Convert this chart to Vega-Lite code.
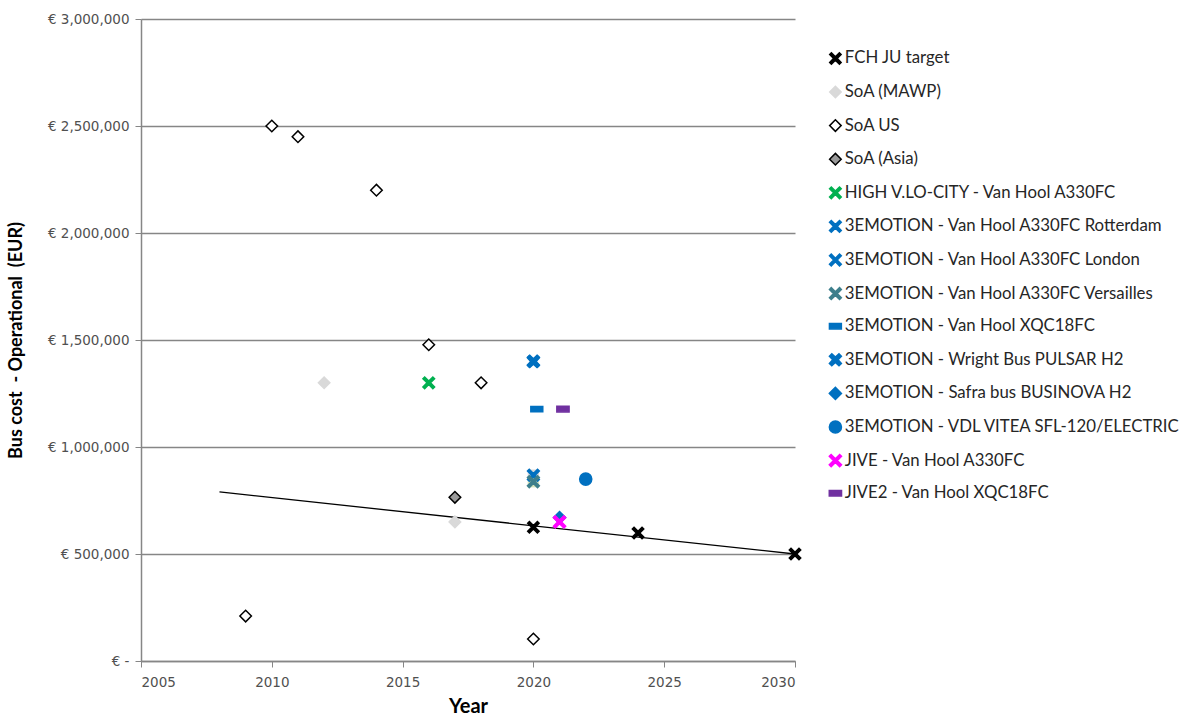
{
  "$schema": "https://vega.github.io/schema/vega-lite/v6.json",
  "width": 654,
  "height": 642,
  "autosize": "none",
  "padding": {"left": 141, "top": 19, "right": 384, "bottom": 56},
  "background": "white",
  "config": {
    "view": {"stroke": null},
    "font": "Lato",
    "axis": {"labelFont": "DejaVu Sans", "titleFont": "Lato", "labelColor": "#505050", "labelFontSize": 13.5, "titleFontSize": 20, "titleFontWeight": "bold", "titleColor": "#000000", "domainColor": "#868686", "tickColor": "#868686", "gridColor": "#868686", "domainWidth": 1.5, "gridWidth": 1.3}
  },
  "datasets": {
    "points": [
      {"series": "FCH JU target", "year": 2020, "cost": 625000},
      {"series": "FCH JU target", "year": 2024, "cost": 598000},
      {"series": "FCH JU target", "year": 2030, "cost": 500000},
      {"series": "SoA (MAWP)", "year": 2012, "cost": 1300000},
      {"series": "SoA (MAWP)", "year": 2017, "cost": 650000},
      {"series": "SoA US", "year": 2009, "cost": 210000},
      {"series": "SoA US", "year": 2010, "cost": 2500000},
      {"series": "SoA US", "year": 2011, "cost": 2450000},
      {"series": "SoA US", "year": 2014, "cost": 2200000},
      {"series": "SoA US", "year": 2016, "cost": 1478000},
      {"series": "SoA US", "year": 2018, "cost": 1300000},
      {"series": "SoA US", "year": 2020, "cost": 103000},
      {"series": "SoA (Asia)", "year": 2017, "cost": 765000},
      {"series": "HIGH V.LO-CITY - Van Hool A330FC", "year": 2016, "cost": 1300000},
      {"series": "3EMOTION - Van Hool A330FC Rotterdam", "year": 2020, "cost": 1400000},
      {"series": "3EMOTION - Van Hool A330FC London", "year": 2020, "cost": 868000},
      {"series": "3EMOTION - Van Hool A330FC Versailles", "year": 2020, "cost": 838000},
      {"series": "3EMOTION - Van Hool XQC18FC", "year": 2020.13, "cost": 1177000},
      {"series": "3EMOTION - Wright Bus PULSAR H2", "year": 2020, "cost": 1400000},
      {"series": "3EMOTION - Safra bus BUSINOVA H2", "year": 2021, "cost": 670000},
      {"series": "3EMOTION - VDL VITEA SFL-120/ELECTRIC", "year": 2022, "cost": 850000},
      {"series": "JIVE - Van Hool A330FC", "year": 2021, "cost": 650000},
      {"series": "JIVE2 - Van Hool XQC18FC", "year": 2021.13, "cost": 1177000}
    ],
    "trend": [
      {"year": 2008, "cost": 790000},
      {"year": 2030, "cost": 500000}
    ]
  },
  "layer": [
    {
      "data": {"name": "trend"},
      "mark": {"type": "line", "color": "#000000", "strokeWidth": 1.3},
      "encoding": {
        "x": {"field": "year", "type": "quantitative", "scale": {"domain": [2005, 2030], "nice": false, "zero": false},
          "axis": {"title": "Year", "values": [2005, 2010, 2015, 2020, 2025, 2030], "format": "d", "grid": false, "tickSize": 6, "labelPadding": 8, "titlePadding": 8}},
        "y": {"field": "cost", "type": "quantitative", "scale": {"domain": [0, 3000000], "nice": false},
          "axis": {"title": "Bus cost \u00a0- Operational \u00a0(EUR)", "titleFontSize": 18, "values": [0, 500000, 1000000, 1500000, 2000000, 2500000, 3000000], "labelExpr": "datum.value == 0 ? '€ -' : '€ ' + format(datum.value, ',')", "grid": true, "tickSize": 6, "labelPadding": 6, "titlePadding": 22}}
      }
    },
    {
      "data": {"name": "points"},
      "transform": [{"filter": "datum.series == '3EMOTION - Van Hool A330FC London'"}],
      "mark": {"type": "square", "color": "#D9D9D9", "size": 130, "opacity": 1},
      "encoding": {"x": {"field": "year", "type": "quantitative"}, "y": {"field": "cost", "type": "quantitative"}}
    },
    {
      "data": {"name": "points"},
      "transform": [{"filter": "datum.series == '3EMOTION - Van Hool A330FC Versailles'"}],
      "mark": {"type": "square", "color": "#D7E4BD", "size": 130, "opacity": 1},
      "encoding": {"x": {"field": "year", "type": "quantitative"}, "y": {"field": "cost", "type": "quantitative"}}
    },
    {
      "data": {"name": "points"},
      "mark": {"type": "point", "opacity": 1, "strokeWidth": 1.5},
      "encoding": {
        "x": {"field": "year", "type": "quantitative"},
        "y": {"field": "cost", "type": "quantitative"},
        "shape": {"field": "series", "type": "nominal", "scale": {
          "domain": ["FCH JU target", "SoA (MAWP)", "SoA US", "SoA (Asia)", "HIGH V.LO-CITY - Van Hool A330FC", "3EMOTION - Van Hool A330FC Rotterdam", "3EMOTION - Van Hool A330FC London", "3EMOTION - Van Hool A330FC Versailles", "3EMOTION - Van Hool XQC18FC", "3EMOTION - Wright Bus PULSAR H2", "3EMOTION - Safra bus BUSINOVA H2", "3EMOTION - VDL VITEA SFL-120/ELECTRIC", "JIVE - Van Hool A330FC", "JIVE2 - Van Hool XQC18FC"],
          "range": [
            "M-1,-0.7L-0.7,-1L0,-0.3L0.7,-1L1,-0.7L0.3,0L1,0.7L0.7,1L0,0.3L-0.7,1L-1,0.7L-0.3,0Z",
            "diamond",
            "diamond",
            "diamond",
            "M-1,-0.7L-0.7,-1L0,-0.3L0.7,-1L1,-0.7L0.3,0L1,0.7L0.7,1L0,0.3L-0.7,1L-1,0.7L-0.3,0Z",
            "M-1,-0.7L-0.7,-1L0,-0.3L0.7,-1L1,-0.7L0.3,0L1,0.7L0.7,1L0,0.3L-0.7,1L-1,0.7L-0.3,0Z",
            "M-1,-0.7L-0.7,-1L0,-0.3L0.7,-1L1,-0.7L0.3,0L1,0.7L0.7,1L0,0.3L-0.7,1L-1,0.7L-0.3,0Z",
            "M-1,-0.7L-0.7,-1L0,-0.3L0.7,-1L1,-0.7L0.3,0L1,0.7L0.7,1L0,0.3L-0.7,1L-1,0.7L-0.3,0Z",
            "M-1,-0.45L1,-0.45L1,0.45L-1,0.45Z",
            "M-1,-0.6L-0.6,-1L0,-0.45L0.6,-1L1,-0.6L0.45,0L1,0.6L0.6,1L0,0.45L-0.6,1L-1,0.6L-0.45,0Z",
            "diamond",
            "circle",
            "M-1,-0.7L-0.7,-1L0,-0.3L0.7,-1L1,-0.7L0.3,0L1,0.7L0.7,1L0,0.3L-0.7,1L-1,0.7L-0.3,0Z",
            "M-1,-0.45L1,-0.45L1,0.45L-1,0.45Z"
          ]}, "legend": {
          "orient": "none", "legendX": 686, "legendY": 31, "title": null,
          "labelFont": "Lato", "labelFontSize": 16.8, "labelColor": "#262626", "rowPadding": 14.6, "labelLimit": 400, "symbolOpacity": 1, "symbolStrokeWidth": 1.5, "labelOffset": 1
        }},
        "fill": {"field": "series", "type": "nominal", "scale": {
          "domain": ["FCH JU target", "SoA (MAWP)", "SoA US", "SoA (Asia)", "HIGH V.LO-CITY - Van Hool A330FC", "3EMOTION - Van Hool A330FC Rotterdam", "3EMOTION - Van Hool A330FC London", "3EMOTION - Van Hool A330FC Versailles", "3EMOTION - Van Hool XQC18FC", "3EMOTION - Wright Bus PULSAR H2", "3EMOTION - Safra bus BUSINOVA H2", "3EMOTION - VDL VITEA SFL-120/ELECTRIC", "JIVE - Van Hool A330FC", "JIVE2 - Van Hool XQC18FC"],
          "range": ["#000000", "#D9D9D9", "#FFFFFF", "#9A9A9A", "#00B050", "#0070C0", "#0070C0", "#3E7F8C", "#0070C0", "#0070C0", "#0070C0", "#0070C0", "#FF00FF", "#7030A0"]}},
        "stroke": {"field": "series", "type": "nominal", "scale": {
          "domain": ["FCH JU target", "SoA (MAWP)", "SoA US", "SoA (Asia)", "HIGH V.LO-CITY - Van Hool A330FC", "3EMOTION - Van Hool A330FC Rotterdam", "3EMOTION - Van Hool A330FC London", "3EMOTION - Van Hool A330FC Versailles", "3EMOTION - Van Hool XQC18FC", "3EMOTION - Wright Bus PULSAR H2", "3EMOTION - Safra bus BUSINOVA H2", "3EMOTION - VDL VITEA SFL-120/ELECTRIC", "JIVE - Van Hool A330FC", "JIVE2 - Van Hool XQC18FC"],
          "range": ["#000000", "#D9D9D9", "#000000", "#000000", "#00B050", "#0070C0", "#0070C0", "#3E7F8C", "#0070C0", "#0070C0", "#0070C0", "#0070C0", "#FF00FF", "#7030A0"]}},
        "size": {"field": "series", "type": "nominal", "scale": {
          "domain": ["FCH JU target", "SoA (MAWP)", "SoA US", "SoA (Asia)", "HIGH V.LO-CITY - Van Hool A330FC", "3EMOTION - Van Hool A330FC Rotterdam", "3EMOTION - Van Hool A330FC London", "3EMOTION - Van Hool A330FC Versailles", "3EMOTION - Van Hool XQC18FC", "3EMOTION - Wright Bus PULSAR H2", "3EMOTION - Safra bus BUSINOVA H2", "3EMOTION - VDL VITEA SFL-120/ELECTRIC", "JIVE - Van Hool A330FC", "JIVE2 - Van Hool XQC18FC"],
          "range": [130, 150, 100, 100, 130, 130, 130, 130, 90, 170, 130, 340, 130, 90]}}
      }
    }
  ]
}
